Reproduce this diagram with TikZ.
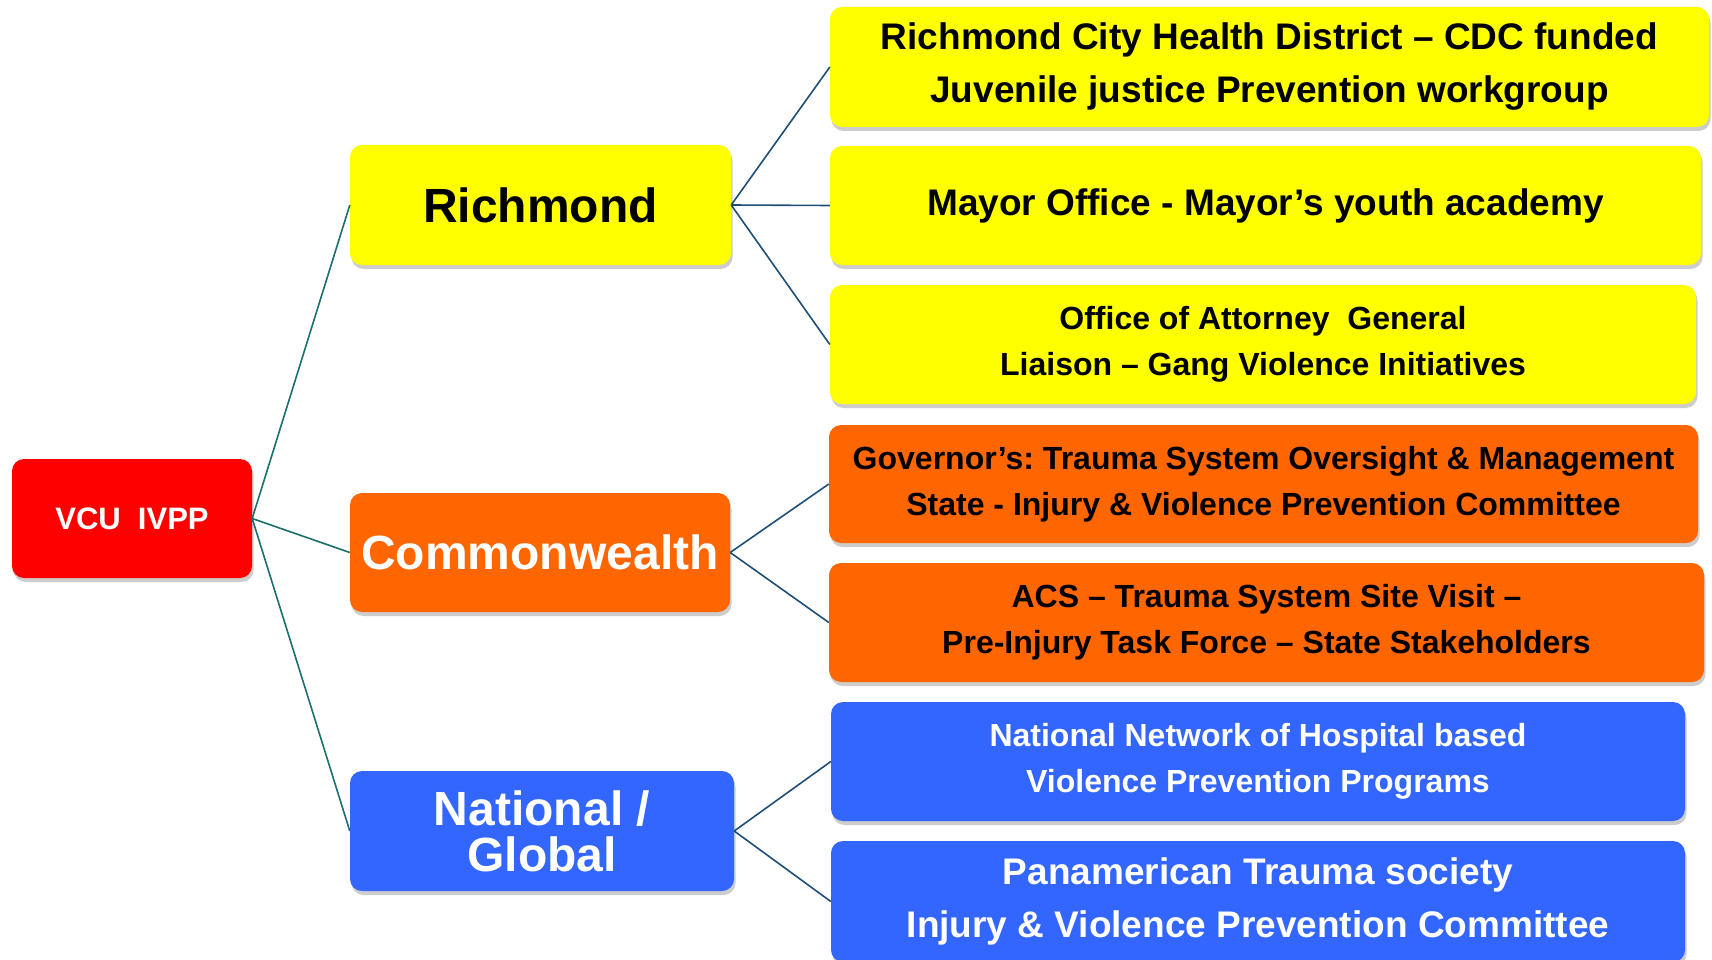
\documentclass[tikz,border=0pt]{standalone}
\usepackage{fontspec}
\setmainfont{Liberation Sans}
\usetikzlibrary{shadows}
\frenchspacing
\definecolor{cred}{HTML}{FF0000}
\definecolor{cyel}{HTML}{FFFF00}
\definecolor{corg}{HTML}{FF6600}
\definecolor{cblu}{HTML}{3366FF}
\definecolor{lteal}{HTML}{1B6F6C}
\definecolor{lnavy}{HTML}{1F4E79}
\tikzset{
  box/.style={rectangle, rounded corners=12pt, inner sep=0pt, align=center,
    drop shadow={shadow xshift=1.5pt, shadow yshift=-4pt, opacity=0.28, fill=black!70}},
  redbox/.style={box, fill=cred, text=white},
  yelbox/.style={box, fill=cyel, text=black},
  orgbox/.style={box, fill=corg},
  blubox/.style={box, fill=cblu, text=white},
  bigf/.style={font=\bfseries\fontsize{48}{46}\selectfont},
  medf/.style={font=\bfseries\fontsize{37}{53}\selectfont},
  smlf/.style={font=\bfseries\fontsize{32}{46}\selectfont},
  tline/.style={draw=lteal, line width=1.6pt},
  nline/.style={draw=lnavy, line width=1.6pt},
}
\begin{document}
\begin{tikzpicture}[x=1pt,y=-1pt]
\useasboundingbox (0,0) rectangle (1712,960);
\fill[white] (0,0) rectangle (1712,960);
% level 0
\node[redbox, minimum width=240pt, minimum height=119pt, font=\bfseries\fontsize{31}{36}\selectfont] (vcu) at (132,518.5) {VCU\ \ IVPP};
% level 1
\node[yelbox, bigf, minimum width=381pt, minimum height=120pt] (rich) at (540.5,205) {Richmond};
\node[orgbox, bigf, text=white, minimum width=380pt, minimum height=119pt] (comm) at (540,552.5) {Commonwealth};
\node[blubox, bigf, minimum width=384pt, minimum height=120pt] (nat) at (542,831) {National /\\Global};
% level 2
\node[yelbox, medf, minimum width=879pt, minimum height=120pt] (b1) at (1269.5,67) {Richmond City Health District – CDC funded\\Juvenile justice Prevention workgroup};
\node[yelbox, medf, minimum width=871pt, minimum height=119pt] (b2) at (1265.5,205.5) {Mayor Office - Mayor’s youth academy};
\node[yelbox, smlf, minimum width=866pt, minimum height=119pt] (b3) at (1263,344.5) {Office of Attorney\ \ General\\Liaison – Gang Violence Initiatives};
\node[orgbox, smlf, text=black, minimum width=869pt, minimum height=118pt] (b4) at (1263.5,484) {Governor’s: Trauma System Oversight \& Management\\State - Injury \& Violence Prevention Committee};
\node[orgbox, smlf, text=black, minimum width=875pt, minimum height=119pt] (b5) at (1266.5,622.5) {ACS – Trauma System Site Visit –\\Pre-Injury Task Force – State Stakeholders};
\node[blubox, smlf, minimum width=854pt, minimum height=119pt] (b6) at (1258,761.5) {National Network of Hospital based\\Violence Prevention Programs};
\node[blubox, medf, minimum width=854pt, minimum height=121pt] (b7) at (1258,901.5) {Panamerican Trauma society\\Injury \& Violence Prevention Committee};
% connectors
\draw[tline] (vcu.east) -- (rich.west);
\draw[tline] (vcu.east) -- (comm.west);
\draw[tline] (vcu.east) -- (nat.west);
\draw[nline] (rich.east) -- (b1.west);
\draw[nline] (rich.east) -- (b2.west);
\draw[nline] (rich.east) -- (b3.west);
\draw[nline] (comm.east) -- (b4.west);
\draw[nline] (comm.east) -- (b5.west);
\draw[nline] (nat.east) -- (b6.west);
\draw[nline] (nat.east) -- (b7.west);
\end{tikzpicture}
\end{document}
